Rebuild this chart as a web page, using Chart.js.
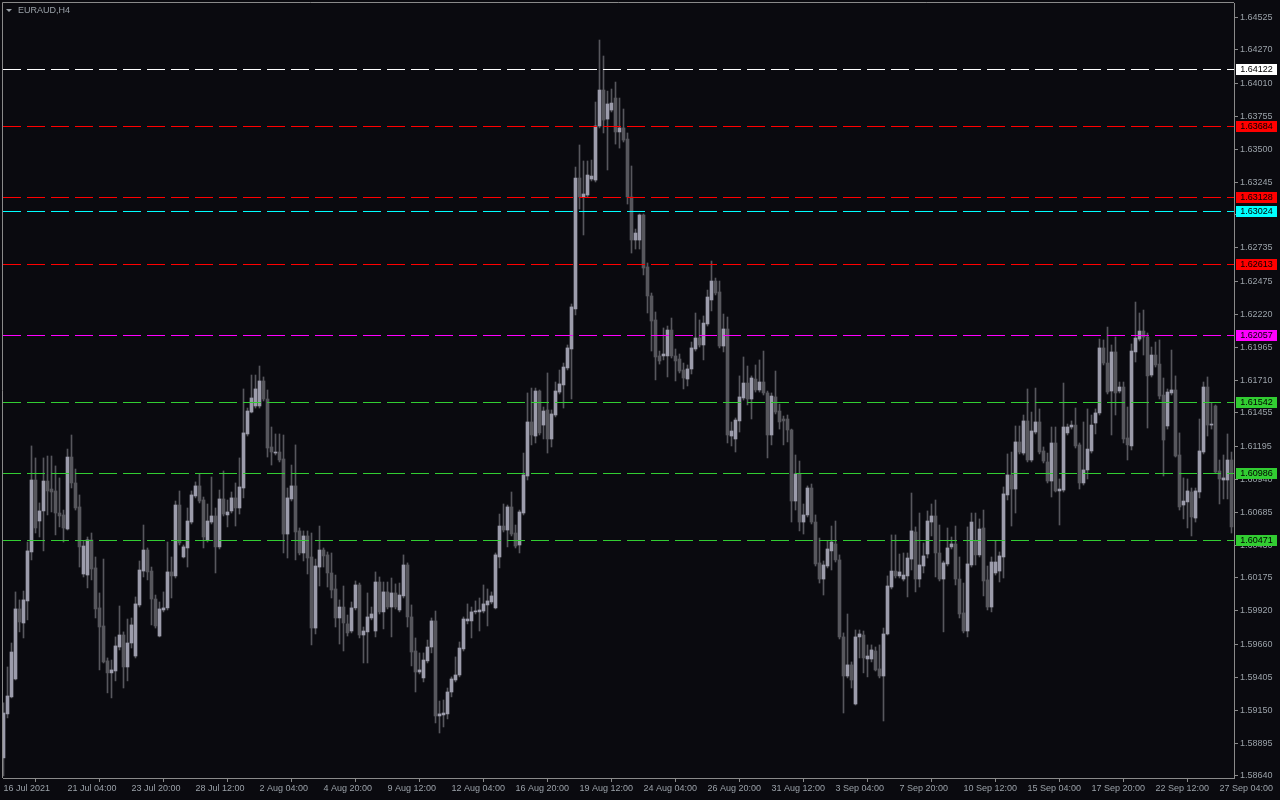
<!DOCTYPE html>
<html><head><meta charset="utf-8">
<script src="https://cdn.jsdelivr.net/npm/chart.js@4.4.0/dist/chart.umd.min.js"></script>
<style>html,body{margin:0;padding:0;background:#0a0a0f;overflow:hidden}#wrap{width:1280px;height:800px;position:relative}</style>
</head><body><div id="wrap"><canvas id="c" width="1280" height="800"></canvas></div>
<script>
const symbolTitle = 'EURAUD,H4';
const open = [1.58780,1.59121,1.59253,1.59392,1.59935,1.59826,1.59997,1.60377,1.60935,1.60617,
1.60695,1.60927,1.60865,1.60850,1.60679,1.60664,1.60555,1.61113,1.60912,1.60726,
1.60206,1.60198,1.60470,1.60253,1.59943,1.59803,1.59532,1.59439,1.59454,1.59640,
1.59733,1.59485,1.59671,1.59570,1.59966,1.60229,1.60392,1.60229,1.60012,1.59725,
1.59927,1.59943,1.60222,1.60191,1.60741,1.60338,1.60408,1.60609,1.60811,1.60889,
1.60780,1.60470,1.60609,1.60656,1.60416,1.60788,1.60664,1.60695,1.60796,1.60718,
1.60873,1.61292,1.61462,1.61509,1.61509,1.61703,1.61563,1.61191,1.61144,1.61152,
1.61098,1.60516,1.60788,1.60889,1.60540,1.60369,1.60501,1.60338,1.59787,1.60260,
1.60392,1.60354,1.60214,1.60090,1.59865,1.59950,1.59819,1.59764,1.59943,1.60121,
1.59733,1.59757,1.59865,1.59764,1.60144,1.59912,1.60067,1.59950,1.60059,1.59927,
1.60036,1.60276,1.59873,1.59609,1.59446,1.59400,1.59532,1.59640,1.59842,1.59105,
1.59113,1.59121,1.59291,1.59384,1.59423,1.59625,1.59842,1.59842,1.59912,1.59912,
1.59919,1.59966,1.59989,1.59943,1.60338,1.60578,1.60547,1.60726,1.60524,1.60431,
1.60679,1.60966,1.61385,1.61276,1.61625,1.61361,1.61478,1.61253,1.61439,1.61617,
1.61672,1.61804,1.61951,1.62261,1.63277,1.63130,1.63145,1.63269,1.63261,1.63680,
1.63959,1.63734,1.63804,1.63897,1.63634,1.63665,1.63579,1.63130,1.62796,1.62796,
1.62990,1.62587,1.62362,1.62176,1.61897,1.61897,1.61897,1.62098,1.61897,1.61873,
1.61788,1.61718,1.61796,1.61951,1.62036,1.61982,1.62145,1.62331,1.62478,1.62393,
1.61974,1.62106,1.61276,1.61253,1.61393,1.61571,1.61687,1.61563,1.61718,1.61633,
1.61695,1.61610,1.61284,1.61579,1.61470,1.61408,1.61408,1.61323,1.60772,1.60982,
1.60609,1.60664,1.60873,1.60609,1.60292,1.60167,1.60268,1.60385,1.60439,1.60315,
1.59718,1.59415,1.59501,1.59198,1.59718,1.59733,1.59547,1.59547,1.59609,1.59470,
1.59415,1.59741,1.60105,1.60229,1.60191,1.60167,1.60191,1.60322,1.60532,1.60167,
1.60268,1.60361,1.60609,1.60656,1.60369,1.60167,1.60284,1.60416,1.60439,1.60167,
1.59904,1.59764,1.60276,1.60462,1.60354,1.60563,1.60160,1.59950,1.60214,1.60229,
1.60338,1.60819,1.60974,1.60865,1.61230,1.61144,1.61393,1.61090,1.61307,1.61385,
1.61160,1.61075,1.60927,1.61222,1.60850,1.60857,1.61300,1.61346,1.61361,1.61207,
1.60912,1.61013,1.61160,1.61377,1.61455,1.61959,1.61842,1.61625,1.61928,1.61625,
1.61656,1.61261,1.61199,1.61928,1.62028,1.62090,1.62044,1.61749,1.61904,1.61834,
1.61594,1.61354,1.61610,1.61633,1.61129,1.60741,1.60765,1.60842,1.60640,1.60842,
1.61152,1.61656,1.61361,1.61509,1.61005,1.60935,1.60935,1.61090];
const high = [1.59206,1.59485,1.59671,1.60067,1.60005,1.60074,1.60454,1.61199,1.61106,1.60757,
1.61106,1.61121,1.61121,1.61044,1.60951,1.60702,1.61175,1.61284,1.61020,1.60819,
1.60462,1.60493,1.60524,1.60338,1.60059,1.60322,1.59555,1.59539,1.59718,1.59958,
1.59757,1.59857,1.59865,1.60028,1.60307,1.60586,1.60408,1.60260,1.60043,1.59989,
1.60067,1.60454,1.60338,1.60772,1.60850,1.60431,1.60718,1.60850,1.60920,1.60982,
1.60803,1.60749,1.60958,1.60718,1.60857,1.61005,1.60780,1.60842,1.60912,1.61106,
1.61641,1.61493,1.61749,1.61749,1.61819,1.61734,1.61633,1.61346,1.61292,1.61292,
1.61284,1.60873,1.61051,1.61207,1.60563,1.60540,1.60540,1.60524,1.60322,1.60578,
1.60408,1.60377,1.60369,1.60198,1.60005,1.60113,1.59888,1.59989,1.60152,1.60136,
1.59795,1.60059,1.59950,1.60222,1.60183,1.60144,1.60144,1.60175,1.60129,1.60136,
1.60354,1.60292,1.59966,1.59710,1.59594,1.59594,1.59694,1.59865,1.59919,1.59221,
1.59229,1.59322,1.59408,1.59563,1.59679,1.59873,1.59974,1.59950,1.59997,1.60020,
1.60121,1.60090,1.60067,1.60369,1.60671,1.60749,1.60741,1.60842,1.60586,1.60702,
1.61144,1.61610,1.61648,1.61648,1.61633,1.61501,1.61765,1.61478,1.61695,1.61788,
1.61842,1.61982,1.62300,1.63362,1.63533,1.63409,1.63409,1.63416,1.63866,1.64347,
1.64223,1.63951,1.63967,1.64021,1.63897,1.63812,1.63626,1.63370,1.62881,1.62998,
1.62998,1.62618,1.62385,1.62238,1.61935,1.62114,1.62129,1.62191,1.61951,1.61912,
1.61842,1.61827,1.62005,1.62230,1.62176,1.62207,1.62408,1.62633,1.62501,1.62478,
1.62222,1.62199,1.61385,1.61416,1.61742,1.61889,1.61819,1.61742,1.61827,1.61866,
1.61935,1.61625,1.61610,1.61780,1.61524,1.61431,1.61439,1.61330,1.61129,1.61082,
1.60749,1.60889,1.60904,1.60664,1.60485,1.60307,1.60462,1.60578,1.60617,1.60354,
1.59749,1.59896,1.59524,1.59772,1.59772,1.59764,1.59656,1.59656,1.59640,1.59656,
1.59787,1.60191,1.60509,1.60509,1.60361,1.60369,1.60369,1.60834,1.60571,1.60679,
1.60447,1.60695,1.60749,1.60780,1.60586,1.60307,1.60563,1.60493,1.60578,1.60338,
1.60136,1.60571,1.60679,1.60679,1.60633,1.60702,1.60268,1.60338,1.60462,1.60377,
1.60881,1.61137,1.61152,1.61354,1.61354,1.61439,1.61641,1.61462,1.61648,1.61486,
1.61191,1.61144,1.61346,1.61346,1.60943,1.61687,1.61369,1.61393,1.61493,1.61222,
1.61385,1.61486,1.61439,1.61486,1.62028,1.62021,1.62121,1.61982,1.62044,1.61695,
1.61695,1.61501,1.61990,1.62315,1.62230,1.62253,1.62075,1.61966,1.62005,1.62021,
1.61726,1.61641,1.61943,1.61742,1.61300,1.60951,1.60943,1.60873,1.60873,1.61408,
1.61695,1.61734,1.61532,1.61517,1.61090,1.61129,1.61292,1.61152];
const low = [1.58640,1.59090,1.59245,1.59384,1.59757,1.59710,1.59850,1.60315,1.60524,1.60493,
1.60385,1.60664,1.60687,1.60509,1.60571,1.60454,1.60547,1.60873,1.60702,1.60260,
1.60183,1.60098,1.60160,1.59865,1.59462,1.59516,1.59284,1.59245,1.59377,1.59617,
1.59322,1.59377,1.59632,1.59555,1.59950,1.60183,1.60160,1.59811,1.59787,1.59718,
1.59912,1.59927,1.60020,1.60175,1.60431,1.60330,1.60260,1.60594,1.60796,1.60757,
1.60408,1.60454,1.60594,1.60214,1.60400,1.60656,1.60571,1.60679,1.60578,1.60671,
1.60796,1.61276,1.61455,1.61493,1.61493,1.61548,1.61113,1.61051,1.61129,1.61075,
1.60369,1.60330,1.60772,1.60315,1.60354,1.60307,1.60206,1.59656,1.59741,1.60113,
1.60260,1.60105,1.60020,1.59795,1.59663,1.59609,1.59725,1.59749,1.59927,1.59710,
1.59516,1.59516,1.59850,1.59718,1.59896,1.59780,1.59935,1.59718,1.59935,1.59912,
1.60020,1.59795,1.59493,1.59291,1.59431,1.59369,1.59516,1.59594,1.59051,1.58973,
1.59020,1.59082,1.59253,1.59369,1.59408,1.59609,1.59819,1.59710,1.59896,1.59764,
1.59904,1.59803,1.59974,1.59935,1.60253,1.60532,1.60416,1.60501,1.60408,1.60369,
1.60664,1.60935,1.61207,1.61222,1.61284,1.61253,1.61144,1.61191,1.61424,1.61602,
1.61493,1.61788,1.61563,1.62215,1.63036,1.62835,1.63130,1.63254,1.63246,1.63665,
1.63626,1.63339,1.63789,1.63540,1.63509,1.63556,1.63075,1.62695,1.62726,1.62726,
1.62525,1.62230,1.61935,1.61711,1.61834,1.61866,1.61734,1.61881,1.61703,1.61765,
1.61641,1.61664,1.61757,1.61935,1.61966,1.61866,1.62129,1.62246,1.62370,1.61959,
1.61928,1.61222,1.61199,1.61152,1.61307,1.61555,1.61517,1.61408,1.61617,1.61617,
1.61594,1.61106,1.61207,1.61447,1.61330,1.61207,1.61230,1.60609,1.60702,1.60540,
1.60516,1.60648,1.60594,1.60268,1.60136,1.60043,1.60253,1.60237,1.60299,1.59702,
1.59128,1.59400,1.59322,1.59190,1.59555,1.59439,1.59408,1.59524,1.59454,1.59400,
1.59066,1.59733,1.60090,1.60175,1.60175,1.60152,1.60028,1.60237,1.60067,1.60105,
1.60214,1.60330,1.60501,1.60183,1.60152,1.59757,1.60268,1.60400,1.60121,1.59865,
1.59749,1.59718,1.60260,1.60276,1.60338,1.60036,1.59927,1.59912,1.60198,1.60144,
1.60175,1.60780,1.60578,1.60679,1.61137,1.61129,1.61075,1.61075,1.61292,1.61137,
1.61067,1.60912,1.60803,1.60842,1.60586,1.60842,1.61284,1.61330,1.61183,1.60865,
1.60896,1.60943,1.61144,1.61292,1.61439,1.61827,1.61602,1.61284,1.61439,1.61610,
1.61222,1.61090,1.61168,1.61850,1.62013,1.61904,1.61338,1.61734,1.61811,1.61563,
1.60966,1.61330,1.61594,1.61113,1.60702,1.60633,1.60563,1.60501,1.60609,1.60796,
1.61137,1.61276,1.61330,1.60989,1.60749,1.60788,1.60788,1.60524];
const close = [1.59128,1.59260,1.59601,1.59935,1.59834,1.60005,1.60385,1.60935,1.60563,1.60695,
1.60927,1.60850,1.60842,1.60679,1.60656,1.60563,1.61113,1.60912,1.60718,1.60416,
1.60423,1.60470,1.60245,1.59935,1.59795,1.59524,1.59439,1.59462,1.59648,1.59733,
1.59485,1.59671,1.59811,1.59974,1.60237,1.60392,1.60222,1.60012,1.59803,1.59935,
1.59943,1.60222,1.60191,1.60741,1.60447,1.60416,1.60617,1.60819,1.60889,1.60772,
1.60493,1.60617,1.60656,1.60416,1.60788,1.60671,1.60687,1.60796,1.60718,1.60881,
1.61300,1.61470,1.61571,1.61641,1.61703,1.61563,1.61183,1.61152,1.61152,1.61090,
1.60516,1.60796,1.60889,1.60532,1.60369,1.60501,1.60330,1.59787,1.60268,1.60392,
1.60346,1.60214,1.60082,1.59865,1.59950,1.59826,1.59749,1.59943,1.60121,1.59733,
1.59764,1.59873,1.59896,1.60144,1.59912,1.60067,1.59950,1.60059,1.59950,1.60043,
1.60276,1.59873,1.59601,1.59446,1.59462,1.59539,1.59640,1.59842,1.59105,1.59121,
1.59128,1.59291,1.59392,1.59423,1.59632,1.59857,1.59857,1.59912,1.59919,1.59927,
1.59974,1.59997,1.60036,1.60354,1.60578,1.60547,1.60726,1.60516,1.60423,1.60687,
1.60974,1.61385,1.61284,1.61625,1.61300,1.61470,1.61253,1.61447,1.61625,1.61680,
1.61811,1.61959,1.62277,1.63277,1.63130,1.63153,1.63300,1.63292,1.63680,1.63959,
1.63726,1.63851,1.63858,1.63634,1.63665,1.63571,1.63130,1.62796,1.62850,1.62990,
1.62579,1.62362,1.62168,1.61889,1.61858,1.61912,1.62098,1.61897,1.61858,1.61780,
1.61726,1.61796,1.61959,1.62036,1.61982,1.62152,1.62354,1.62478,1.62385,1.61974,
1.62106,1.61284,1.61315,1.61400,1.61579,1.61687,1.61563,1.61726,1.61633,1.61695,
1.61610,1.61284,1.61586,1.61462,1.61385,1.61393,1.61323,1.60772,1.60982,1.60609,
1.60664,1.60873,1.60609,1.60284,1.60167,1.60276,1.60400,1.60454,1.60315,1.59718,
1.59415,1.59501,1.59384,1.59718,1.59741,1.59555,1.59570,1.59617,1.59462,1.59415,
1.59741,1.60113,1.60229,1.60191,1.60222,1.60198,1.60330,1.60540,1.60167,1.60276,
1.60346,1.60617,1.60656,1.60369,1.60167,1.60292,1.60408,1.60439,1.60167,1.59896,
1.59764,1.60284,1.60609,1.60354,1.60555,1.60152,1.59950,1.60299,1.60299,1.60346,
1.60827,1.60974,1.60865,1.61230,1.61152,1.61393,1.61090,1.61315,1.61385,1.61152,
1.61082,1.60927,1.61222,1.60850,1.60865,1.61346,1.61346,1.61361,1.61199,1.60912,
1.61013,1.61175,1.61361,1.61455,1.61959,1.61842,1.61617,1.61928,1.61610,1.61656,
1.61253,1.61207,1.61935,1.62036,1.62090,1.62044,1.61742,1.61904,1.61827,1.61586,
1.61245,1.61617,1.61633,1.61121,1.60726,1.60772,1.60850,1.60648,1.60850,1.61160,
1.61656,1.61361,1.61369,1.60997,1.60943,1.60951,1.61090,1.60571];
const timeTickIndex = [0,16,32,48,64,80,96,112,128,144,160,176,192,208,224,240,256,272,288,304];
const timeTickLabels = ['16 Jul 2021','21 Jul 04:00','23 Jul 20:00','28 Jul 12:00','2 Aug 04:00','4 Aug 20:00','9 Aug 12:00','12 Aug 04:00','16 Aug 20:00','19 Aug 12:00','24 Aug 04:00','26 Aug 20:00','31 Aug 12:00','3 Sep 04:00','7 Sep 20:00','10 Sep 12:00','15 Sep 04:00','17 Sep 20:00','22 Sep 12:00','27 Sep 04:00'];
const priceTicks = [1.64525,1.64270,1.64010,1.63755,1.63500,1.63245,1.62990,1.62735,1.62475,1.62220,1.61965,1.61710,1.61455,1.61195,1.60940,1.60685,1.60430,1.60175,1.59920,1.59660,1.59405,1.59150,1.58895,1.58640];
const levelPrices = [1.64122,1.63684,1.63128,1.63024,1.62613,1.62057,1.61542,1.60986,1.60471];

const levelColors = ['#ffffff','#ff0000','#ff0000','#00ffff','#ff0000','#ff00ff','#32cd32','#32cd32','#32cd32'];
const BULL = '#9c9cab', BEAR = '#57575d', WICK = '#57575d';
const X_MIN = -0.125, X_MAX = 307.625;
const Y_MIN = 1.58624, Y_MAX = 1.64634;
const FONT = 'Liberation Sans, Arial, sans-serif';
const TXT = '#9aa1a8', AXIS = '#8a8a8a';

const idx = open.map((_, i) => i);
const bodyData = idx.map(i => ({x: i, y: [open[i], close[i]]}));
const bodyColors = idx.map(i => close[i] >= open[i] ? BULL : BEAR);
const wickData = idx.map(i => ({x: i, y: [low[i], high[i]]}));

const deco = {
  id: 'deco',
  beforeDraw(chart) {
    const c = chart.ctx;
    c.save(); c.fillStyle = '#0a0a0f'; c.fillRect(0, 0, chart.width, chart.height); c.restore();
  },
  afterDatasetsDraw(chart) {
    const c = chart.ctx, a = chart.chartArea, ys = chart.scales.y, xs = chart.scales.x;
    const x0 = xs.getPixelForValue(X_MIN), x1 = xs.getPixelForValue(X_MAX);
    c.save();
    c.lineWidth = 1;
    c.setLineDash([18, 6]);
    levelPrices.forEach((p, k) => {
      const y = Math.round(ys.getPixelForValue(p)) + 0.5;
      c.strokeStyle = levelColors[k];
      c.beginPath(); c.moveTo(x0, y); c.lineTo(x1, y); c.stroke();
    });
    c.restore();
  },
  afterDraw(chart) {
    const c = chart.ctx, a = chart.chartArea, ys = chart.scales.y;
    c.save();
    c.strokeStyle = AXIS; c.lineWidth = 1;
    c.beginPath();
    c.moveTo(2.5, a.bottom); c.lineTo(2.5, 2.5); c.lineTo(a.right, 2.5);
    c.stroke();
    c.fillStyle = TXT;
    c.beginPath(); c.moveTo(6, 9); c.lineTo(12, 9); c.lineTo(9, 12); c.closePath(); c.fill();
    c.font = '9px ' + FONT; c.textBaseline = 'middle'; c.textAlign = 'left';
    c.fillText(symbolTitle, 18, 10.5);
    levelPrices.forEach((p, k) => {
      const y = Math.round(ys.getPixelForValue(p));
      c.fillStyle = levelColors[k];
      c.fillRect(1236, y - 5, 41, 11);
      c.fillStyle = '#000000';
      c.textAlign = 'center';
      c.fillText(p.toFixed(5), 1256.5, y + 0.5);
    });
    c.restore();
  }
};

new Chart(document.getElementById('c'), {
  type: 'bar',
  data: {
    datasets: [
      {type: 'bar', data: bodyData, backgroundColor: bodyColors, barThickness: 3, minBarLength: 1, grouped: false, borderWidth: 0, order: 1},
      {type: 'bar', data: wickData, backgroundColor: WICK, barThickness: 1, minBarLength: 1, grouped: false, borderWidth: 0, order: 2}
    ]
  },
  options: {
    responsive: false, animation: false, devicePixelRatio: 1,
    layout: {padding: {left: 3, top: 3, right: 0, bottom: 0}},
    plugins: {legend: {display: false}, tooltip: {enabled: false}},
    scales: {
      x: {
        type: 'linear', offset: false, min: X_MIN, max: X_MAX,
        grid: {display: true, drawOnChartArea: false, drawTicks: true, tickLength: 4, color: AXIS},
        border: {display: true, color: AXIS},
        ticks: {autoSkip: false, maxRotation: 0, minRotation: 0, align: 'start', padding: 1, color: TXT,
          font: {family: FONT, size: 9},
          callback: (v, i) => timeTickLabels[i]},
        afterBuildTicks: s => { s.ticks = timeTickIndex.map(v => ({value: v})); },
        afterFit: s => { s.height = 22; s.paddingLeft = 0; s.paddingRight = 0; }
      },
      y: {
        type: 'linear', position: 'right', min: Y_MIN, max: Y_MAX,
        grid: {display: true, drawOnChartArea: false, drawTicks: true, tickLength: 4, color: AXIS},
        border: {display: true, color: AXIS},
        ticks: {autoSkip: false, padding: 2, color: TXT, font: {family: FONT, size: 9},
          callback: v => Number(v).toFixed(5)},
        afterBuildTicks: s => { s.ticks = priceTicks.map(v => ({value: v})); },
        afterFit: s => { s.width = 46; s.paddingTop = 0; s.paddingBottom = 0; }
      }
    }
  },
  plugins: [deco]
});
</script></body></html>
